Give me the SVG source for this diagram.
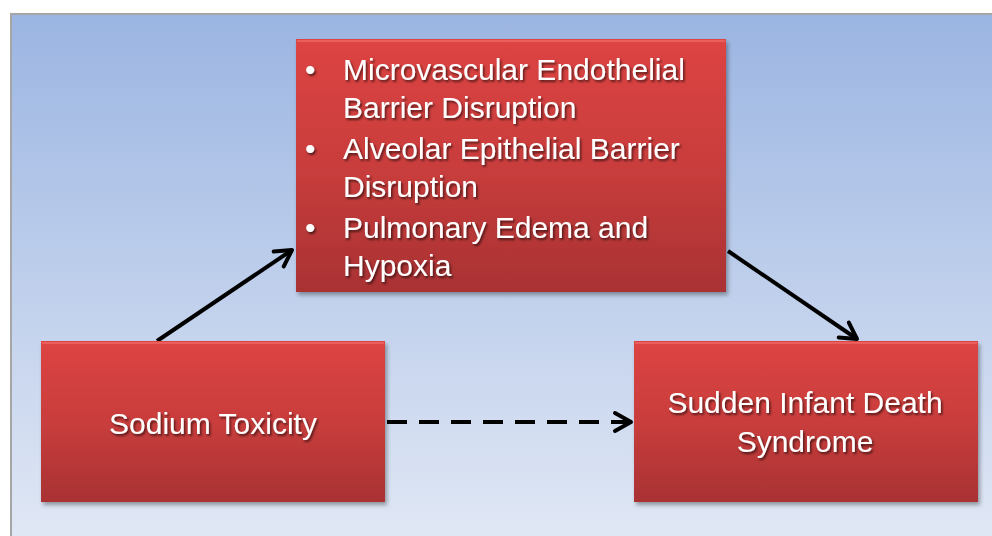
<svg xmlns="http://www.w3.org/2000/svg" width="992" height="536" viewBox="0 0 992 536">
<defs>
<linearGradient id="bg" x1="0" y1="0" x2="0" y2="1">
<stop offset="0" stop-color="#9bb5e2"/>
<stop offset="1" stop-color="#e1e8f5"/>
</linearGradient>
<linearGradient id="red" x1="0" y1="0" x2="0" y2="1">
<stop offset="0" stop-color="#dd4443"/>
<stop offset="0.5" stop-color="#c93d3c"/>
<stop offset="1" stop-color="#a93233"/>
</linearGradient>
<filter id="sh" x="-5%" y="-5%" width="112%" height="115%">
<feDropShadow dx="2" dy="3" stdDeviation="2" flood-color="#000" flood-opacity="0.35"/>
</filter>
<filter id="tsh" x="-5%" y="-20%" width="110%" height="150%">
<feDropShadow dx="1.5" dy="2" stdDeviation="1" flood-color="#000" flood-opacity="0.6"/>
</filter>
<marker id="ah" viewBox="0 0 24 24" refX="21" refY="12" markerWidth="24" markerHeight="24" markerUnits="userSpaceOnUse" orient="auto">
<path d="M5,3 L21,12 L5,21" fill="none" stroke="#000" stroke-width="4" stroke-linecap="round" stroke-linejoin="round"/>
</marker>
</defs>
<style>
.box{fill:url(#red);filter:url(#sh);}
.bevel{fill:none;stroke:#f06a66;stroke-width:2;opacity:0.7;}
.t{font-family:"Liberation Sans","Open Sans",Arial,sans-serif;font-size:30px;fill:#fff;filter:url(#tsh);}
.c{stroke:#000;stroke-width:4;fill:none;marker-end:url(#ah);}
</style>
<rect x="11" y="14" width="990" height="530" fill="url(#bg)" stroke="#a6a6a6" stroke-width="2"/>
<g id="connectors">
<line class="c" x1="157" y1="341" x2="292" y2="250"/>
<line class="c" x1="728" y1="251" x2="857" y2="339"/>
<line class="c" x1="387" y1="422" x2="631" y2="422" stroke-dasharray="20,12"/>
</g>
<g id="mechanisms">
<rect class="box" x="296" y="39" width="430" height="253"/>
<path class="bevel" d="M297,41 H725"/>
<g class="t">
<text x="305" y="80">•</text>
<text x="343" y="80">Microvascular Endothelial</text>
<text x="343" y="118">Barrier Disruption</text>
<text x="305" y="159">•</text>
<text x="343" y="159">Alveolar Epithelial Barrier</text>
<text x="343" y="197">Disruption</text>
<text x="305" y="238">•</text>
<text x="343" y="238">Pulmonary Edema and</text>
<text x="343" y="276">Hypoxia</text>
</g>
</g>
<g id="sodium">
<rect class="box" x="41" y="341" width="344" height="161"/>
<path class="bevel" d="M42,343 H384"/>
<text class="t" x="213" y="434" text-anchor="middle">Sodium Toxicity</text>
</g>
<g id="sids">
<rect class="box" x="634" y="341" width="344" height="161"/>
<path class="bevel" d="M635,343 H977"/>
<text class="t" x="805" y="413" text-anchor="middle">Sudden Infant Death</text>
<text class="t" x="805" y="452" text-anchor="middle">Syndrome</text>
</g>
</svg>
